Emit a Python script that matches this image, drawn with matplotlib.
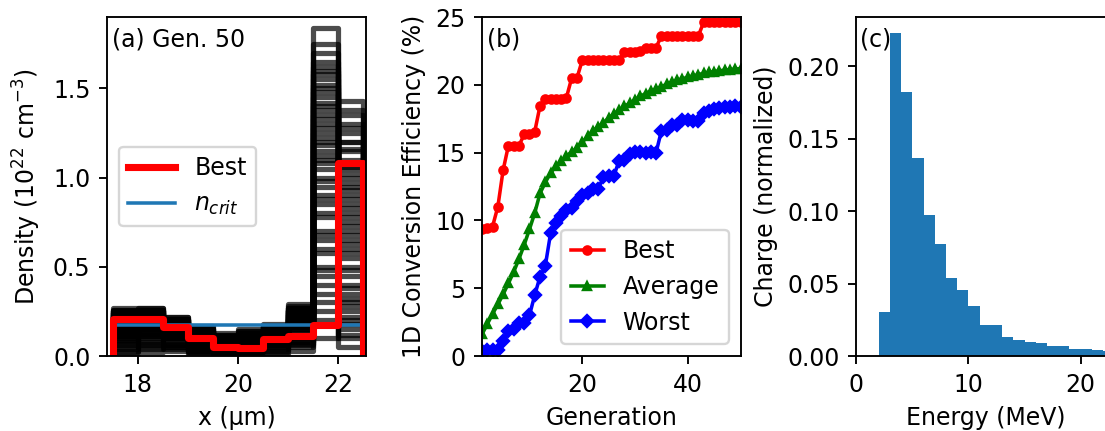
import numpy as np
import matplotlib
matplotlib.use("Agg")
import matplotlib.pyplot as plt

# ---- (a) density profiles at generation 50
x_edges = [17.5, 18.0, 18.5, 19.0, 19.5, 20.0, 20.5, 21.0, 21.5, 22.0, 22.5]
best_profile = [0.21, 0.21, 0.16, 0.10, 0.05, 0.045, 0.095, 0.11, 0.175, 1.08]
n_crit = 0.174
population = [
    [0.27, 0.27, 0.22, 0.12, 0.08, 0.10, 0.15, 0.28, 1.84, 0.30],
    [0.25, 0.26, 0.20, 0.15, 0.10, 0.12, 0.17, 0.25, 1.40, 1.43],
    [0.20, 0.22, 0.18, 0.10, 0.06, 0.08, 0.12, 0.20, 1.55, 0.85],
    [0.15, 0.18, 0.14, 0.08, 0.04, 0.06, 0.10, 0.15, 1.70, 0.50],
    [0.10, 0.14, 0.12, 0.05, 0.02, 0.04, 0.07, 0.12, 1.25, 1.20],
    [0.05, 0.10, 0.08, 0.03, 0.01, 0.02, 0.05, 0.08, 1.10, 1.30],
    [0.02, 0.04, 0.05, 0.01, 0.00, 0.01, 0.02, 0.05, 0.95, 0.90],
    [0.12, 0.20, 0.16, 0.12, 0.09, 0.11, 0.14, 0.22, 0.80, 1.00],
    [0.22, 0.24, 0.21, 0.14, 0.12, 0.14, 0.16, 0.27, 0.65, 0.70],
    [0.18, 0.16, 0.10, 0.07, 0.05, 0.07, 0.09, 0.18, 0.50, 1.15],
    [0.08, 0.12, 0.06, 0.04, 0.03, 0.05, 0.08, 0.10, 0.35, 0.60],
    [0.00, 0.02, 0.03, 0.02, 0.01, 0.00, 0.01, 0.03, 0.20, 0.40],
    [0.24, 0.23, 0.17, 0.13, 0.07, 0.09, 0.13, 0.24, 1.60, 0.20],
    [0.14, 0.08, 0.04, 0.06, 0.03, 0.03, 0.06, 0.14, 1.45, 0.05],
    [0.26, 0.25, 0.19, 0.16, 0.11, 0.13, 0.18, 0.26, 1.35, 0.95],
    [0.19, 0.21, 0.13, 0.09, 0.06, 0.10, 0.11, 0.19, 1.00, 1.38],
    [0.03, 0.06, 0.09, 0.05, 0.02, 0.03, 0.04, 0.06, 0.10, 0.15],
    [0.21, 0.19, 0.15, 0.11, 0.08, 0.12, 0.15, 0.21, 1.75, 1.25],
    [0.11, 0.15, 0.11, 0.09, 0.05, 0.06, 0.08, 0.16, 1.20, 0.80],
    [0.06, 0.11, 0.07, 0.02, 0.02, 0.04, 0.03, 0.09, 0.70, 0.55],
    [0.23, 0.27, 0.22, 0.17, 0.13, 0.15, 0.17, 0.29, 1.50, 1.10],
    [0.16, 0.13, 0.10, 0.10, 0.07, 0.08, 0.10, 0.17, 0.90, 0.35],
    [0.09, 0.09, 0.12, 0.07, 0.04, 0.05, 0.09, 0.11, 1.30, 0.65],
    [0.26, 0.22, 0.16, 0.12, 0.09, 0.11, 0.14, 0.23, 0.60, 1.05],
    [0.13, 0.17, 0.18, 0.11, 0.06, 0.07, 0.12, 0.20, 1.65, 0.75],
    [0.04, 0.07, 0.05, 0.04, 0.03, 0.02, 0.06, 0.07, 0.45, 1.35],
    [0.20, 0.24, 0.19, 0.14, 0.10, 0.13, 0.16, 0.25, 1.15, 0.25],
    [0.17, 0.20, 0.14, 0.08, 0.05, 0.09, 0.11, 0.18, 0.85, 1.20],
    [0.25, 0.26, 0.21, 0.15, 0.12, 0.14, 0.17, 0.27, 1.05, 0.45],
    [0.07, 0.05, 0.06, 0.03, 0.01, 0.03, 0.05, 0.08, 0.30, 0.10],
    [0.24, 0.25, 0.20, 0.13, 0.09, 0.12, 0.16, 0.26, 1.58, 1.02],
    [0.19, 0.22, 0.17, 0.12, 0.08, 0.10, 0.13, 0.21, 1.48, 0.88],
    [0.22, 0.21, 0.18, 0.14, 0.10, 0.11, 0.14, 0.23, 1.38, 0.78],
    [0.16, 0.19, 0.15, 0.10, 0.07, 0.09, 0.12, 0.19, 1.28, 0.68],
    [0.13, 0.15, 0.13, 0.09, 0.05, 0.08, 0.10, 0.17, 1.18, 0.58],
    [0.21, 0.23, 0.19, 0.13, 0.09, 0.11, 0.15, 0.24, 1.08, 0.93],
    [0.18, 0.20, 0.16, 0.11, 0.07, 0.09, 0.13, 0.21, 0.98, 0.83],
    [0.15, 0.17, 0.14, 0.10, 0.06, 0.08, 0.11, 0.18, 0.88, 0.73],
    [0.23, 0.24, 0.20, 0.14, 0.10, 0.12, 0.15, 0.25, 0.78, 0.63],
    [0.20, 0.21, 0.17, 0.12, 0.08, 0.10, 0.13, 0.22, 0.68, 0.48],
    [0.17, 0.19, 0.15, 0.10, 0.06, 0.09, 0.12, 0.19, 0.58, 0.38],
    [0.12, 0.14, 0.11, 0.08, 0.05, 0.07, 0.10, 0.15, 0.48, 0.28],
    [0.25, 0.25, 0.20, 0.15, 0.11, 0.13, 0.16, 0.26, 1.62, 0.18],
    [0.09, 0.11, 0.10, 0.06, 0.04, 0.05, 0.07, 0.12, 1.52, 0.12],
    [0.22, 0.23, 0.18, 0.13, 0.09, 0.11, 0.14, 0.23, 1.42, 1.28],
    [0.14, 0.16, 0.13, 0.09, 0.06, 0.08, 0.11, 0.17, 1.33, 1.16],
    [0.19, 0.21, 0.16, 0.12, 0.08, 0.10, 0.13, 0.20, 1.22, 1.06],
    [0.11, 0.13, 0.10, 0.07, 0.04, 0.06, 0.09, 0.13, 1.12, 0.97],
    [0.24, 0.26, 0.21, 0.14, 0.10, 0.12, 0.16, 0.27, 0.40, 0.32],
    [0.16, 0.18, 0.14, 0.10, 0.06, 0.08, 0.11, 0.18, 0.25, 0.22],
]

# ---- (b) conversion efficiency vs generation
generations = np.arange(1, 51)
eff_best = [9.4, 9.45, 9.55, 11.0, 13.7, 15.5, 15.5, 15.5, 16.35, 16.35,
            16.55, 18.45, 18.95, 18.95, 18.95, 18.95, 19.05, 20.5, 20.5, 21.8,
            21.8, 21.8, 21.8, 21.8, 21.8, 21.8, 21.8, 22.45, 22.45, 22.45,
            22.5, 22.75, 22.75, 22.75, 23.6, 23.6, 23.6, 23.6, 23.6, 23.6,
            23.6, 23.6, 24.6, 24.6, 24.6, 24.6, 24.6, 24.6, 24.6, 24.6]
eff_avg = [1.6, 2.35, 3.1, 3.8, 4.55, 5.35, 6.2, 7.15, 8.2, 9.35,
           10.55, 12.0, 12.8, 13.5, 14.0, 14.4, 14.75, 15.05, 15.35, 15.75,
           16.2, 16.6, 16.9, 17.2, 17.55, 17.85, 18.15, 18.4, 18.65, 18.9,
           19.15, 19.35, 19.55, 19.7, 19.85, 20.05, 20.2, 20.33, 20.45, 20.55,
           20.65, 20.75, 20.85, 20.92, 20.98, 21.03, 21.08, 21.12, 21.16, 21.2]
eff_worst = [0.4, 0.42, 0.45, 0.45, 1.1, 1.85, 2.0, 2.45, 2.4, 3.0,
             4.5, 5.85, 6.65, 9.05, 9.8, 10.3, 10.75, 10.9, 11.4, 11.9,
             12.0, 12.35, 12.3, 13.2, 13.3, 13.3, 14.4, 14.45, 14.9, 15.05,
             15.05, 15.0, 15.05, 15.0, 16.6, 16.7, 17.0, 17.0, 17.4, 17.4,
             17.35, 17.35, 17.9, 18.1, 18.25, 18.3, 18.35, 18.35, 18.4, 18.35]

# ---- (c) electron spectrum
energy_edges = np.arange(2, 24)
charge = [0.0303, 0.2228, 0.1821, 0.1366, 0.0972, 0.0772, 0.054, 0.0455,
          0.0347, 0.0216, 0.0216, 0.0133, 0.011, 0.0099, 0.0092, 0.0069,
          0.0069, 0.0048, 0.0048, 0.0041, 0.0037]

W, H, DPI = 1105, 431, 170
fig = plt.figure(figsize=(W / DPI, H / DPI), dpi=DPI)
bot = (H - 356) / H
hgt = 339 / H
ax_a = fig.add_axes([107 / W, bot, 259 / W, hgt])
ax_b = fig.add_axes([482 / W, bot, 258.5 / W, hgt])
ax_c = fig.add_axes([856.3 / W, bot, 258.5 / W, hgt])

# (a)
xs = np.repeat(x_edges, 2)
for prof in population:
    ys = np.concatenate([[0], np.repeat(prof, 2), [0]])
    ax_a.plot(xs, ys, color='k', lw=2.2, alpha=0.7)
line_nc, = ax_a.plot([x_edges[0], x_edges[-1]], [n_crit, n_crit],
                     color='C0', lw=1.5)
line_best, = ax_a.plot(xs, np.concatenate([[0], np.repeat(best_profile, 2), [0]]),
                       color='r', lw=3)
ax_a.legend([line_best, line_nc], ['Best', '$n_{crit}$'], loc='center left')
ax_a.set_xlim(17.39, 22.55)
ax_a.set_ylim(0, 1.9)
ax_a.set_xticks([18, 20, 22])
ax_a.set_yticks([0, 0.5, 1.0, 1.5])
ax_a.set_xlabel('x (μm)')
ax_a.set_ylabel('Density ($10^{22}$ cm$^{-3}$)')
ax_a.text(0.02, 0.97, '(a) Gen. 50', transform=ax_a.transAxes,
          ha='left', va='top')

# (b)
ax_b.plot(generations, eff_best, 'r-o', ms=3.5, label='Best')
ax_b.plot(generations, eff_avg, 'g-^', ms=3.5, label='Average')
ax_b.plot(generations, eff_worst, 'b-D', ms=3.5, label='Worst')
ax_b.legend(loc='lower right', handlelength=1.4)
ax_b.set_xlim(1, 50)
ax_b.set_ylim(0, 25)
ax_b.set_xticks([20, 40])
ax_b.set_xlabel('Generation')
ax_b.set_ylabel('1D Conversion Efficiency (%)')
ax_b.text(0.02, 0.97, '(b)', transform=ax_b.transAxes, ha='left', va='top')

# (c)
ax_c.bar(energy_edges[:-1], charge, width=1, align='edge', color='C0')
ax_c.set_xlim(0, 23.04)
ax_c.set_ylim(0, 0.234)
ax_c.set_xticks([0, 10, 20])
ax_c.set_yticks([0, 0.05, 0.10, 0.15, 0.20])
ax_c.set_xlabel('Energy (MeV)')
ax_c.set_ylabel('Charge (normalized)')
ax_c.text(0.015, 0.97, '(c)', transform=ax_c.transAxes, ha='left', va='top')

fig.savefig('out.png', dpi=DPI)
